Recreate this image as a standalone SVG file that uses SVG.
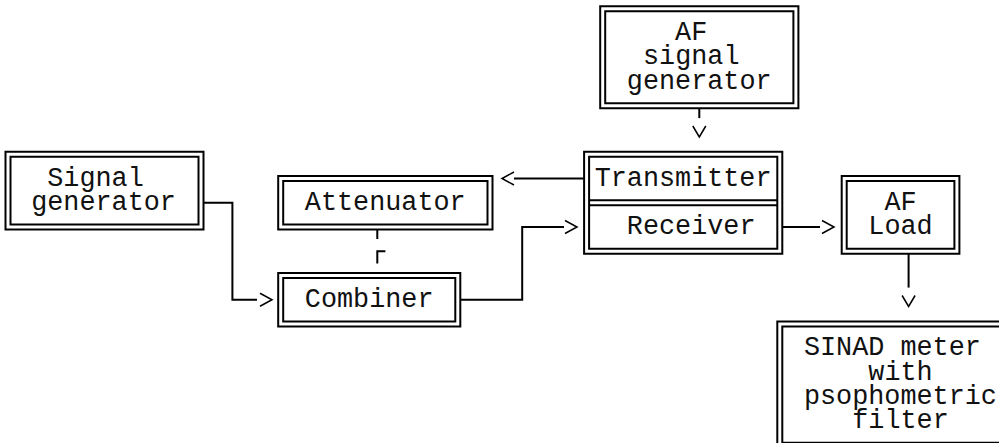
<svg xmlns="http://www.w3.org/2000/svg" xmlns:xlink="http://www.w3.org/1999/xlink" width="999" height="443" viewBox="0 0 999 443">
<style>
.b{fill:none;stroke:#000;stroke-width:2}
.c{fill:none;stroke:#000;stroke-width:2}
.h{fill:none;stroke:#000;stroke-width:1.5}
text{font-family:"Liberation Mono","DejaVu Sans Mono",monospace;font-size:26.8px;fill:#111}
</style>
<defs>
<path id="ar" d="M-12,-6.5 L0,0 L-12,6.5"/>
<path id="av" d="M-6.5,-11 L0,0 L6.5,-11"/>
</defs>
<rect width="999" height="443" fill="#fff"/>
<g id="af-generator">
<rect class="b" x="600.2" y="6.25" width="198.2" height="102"/>
<rect class="b" x="605.2" y="11.25" width="188.2" height="92"/>
<text x="675.1" y="40">AF</text>
<text x="643" y="64.25">signal</text>
<text x="626.85" y="88.5">generator</text>
</g>
<g id="signal-generator">
<rect class="b" x="5.5" y="151.75" width="198" height="77.75"/>
<rect class="b" x="10.5" y="156.75" width="188" height="67.75"/>
<text x="47.25" y="185.5">Signal</text>
<text x="31.15" y="209.75">generator</text>
</g>
<g id="attenuator">
<rect class="b" x="278.2" y="176" width="214.3" height="53.5"/>
<rect class="b" x="283.2" y="181" width="204.3" height="43.5"/>
<text x="304.85" y="209.75">Attenuator</text>
</g>
<g id="combiner">
<rect class="b" x="278.2" y="273" width="182.1" height="53.5"/>
<rect class="b" x="283.2" y="278" width="172.1" height="43.5"/>
<text x="304.85" y="306.75">Combiner</text>
</g>
<g id="transmitter-receiver">
<rect class="b" x="584.1" y="151.75" width="198.2" height="102"/>
<rect class="b" x="589.1" y="156.75" width="188.2" height="92"/>
<path class="b" d="M589.1,200.25 H777.3 M589.1,205.25 H777.3"/>
<text x="594.65" y="185.5">Transmitter</text>
<text x="626.85" y="234">Receiver</text>
</g>
<g id="af-load">
<rect class="b" x="841.7" y="176" width="117.7" height="77.75"/>
<rect class="b" x="846.7" y="181" width="107.7" height="67.75"/>
<text x="884.45" y="209.75">AF</text>
<text x="868.35" y="234">Load</text>
</g>
<g id="sinad-meter">
<rect class="b" x="777.3" y="321.5" width="230.4" height="126.25"/>
<rect class="b" x="782.3" y="326.5" width="220.4" height="116.25"/>
<text x="803.95" y="355.25">SINAD meter</text>
<text x="868.35" y="379.5">with</text>
<text x="803.95" y="403.75">psophometric</text>
<text x="852.25" y="428">filter</text>
</g>
<g id="connectors">
<path class="c" d="M203.5,202.75 H232.4 V299.75 H257"/>
<use href="#ar" xlink:href="#ar" class="h" transform="translate(272,299.75)"/>
<path class="c" d="M584.1,178.5 H514"/>
<use href="#ar" xlink:href="#ar" class="h" transform="translate(502,178.5) rotate(180)"/>
<path class="c" d="M460.3,299.75 H522.2 V227 H564"/>
<use href="#ar" xlink:href="#ar" class="h" transform="translate(577,227)"/>
<path class="c" d="M782.3,227 H820"/>
<use href="#ar" xlink:href="#ar" class="h" transform="translate(834,227)"/>
<path class="c" d="M699.3,108.25 V118.1"/>
<use href="#av" xlink:href="#av" class="h" transform="translate(699.3,137)"/>
<path class="c" d="M908.6,253.75 V287.6"/>
<use href="#av" xlink:href="#av" class="h" transform="translate(908.6,306.5)"/>
<path class="c" d="M377.3,229.5 V239.1 M385.4,251.25 H377.3 V263.4"/>
</g>
</svg>
